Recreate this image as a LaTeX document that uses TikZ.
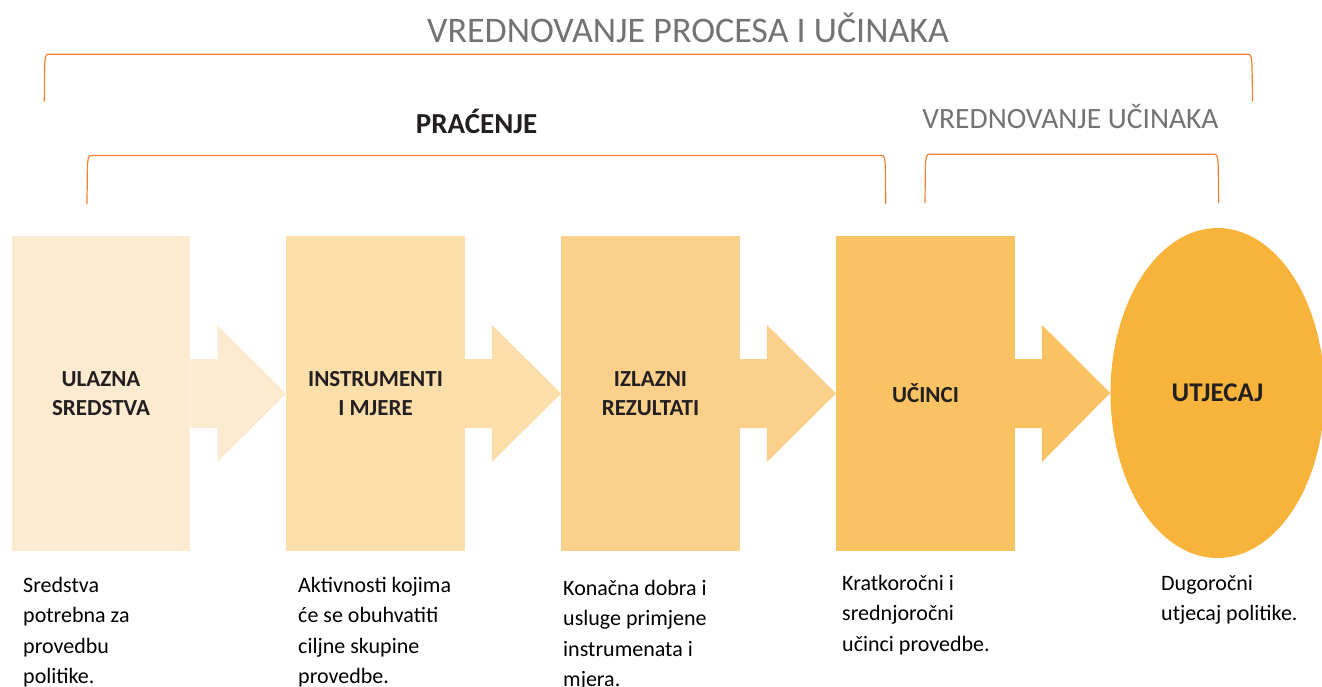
\documentclass[tikz,border=0pt]{standalone}
\usepackage{fontspec}
\setmainfont{Carlito}
\usetikzlibrary{shapes.geometric,calc}
\definecolor{cA}{HTML}{FDEBD1}
\definecolor{cB}{HTML}{FCDEAB}
\definecolor{cC}{HTML}{FBD08A}
\definecolor{cD}{HTML}{F9C262}
\definecolor{cE}{HTML}{F8B33A}
\definecolor{brkcol}{HTML}{F08232}
\definecolor{graytxt}{HTML}{737373}
\definecolor{darktxt}{HTML}{231F20}
\tikzset{
  stagebox/.style={rectangle, fill=#1, minimum width=178.5pt, minimum height=315pt, inner sep=0pt,
    align=center, text=darktxt, font=\fontsize{23}{29}\selectfont\bfseries},
  goalell/.style={ellipse, fill=cE, minimum width=214pt, minimum height=330pt, inner sep=0pt,
    align=center, text=darktxt, font=\fontsize{27}{32}\selectfont\bfseries},
  desc/.style={anchor=north west, inner sep=0pt, align=left, text=black,
    font=\fontsize{22}{30.5}\selectfont},
  brk/.style={draw=brkcol, line width=1.2pt},
  headtxt/.style={anchor=base, inner sep=0pt, text=graytxt},
}
\newcommand{\blockarrow}[3]{%
  \fill[#3] ($(#1.east)+(0,-34.5)$) -- ($(#1.east)+(27,-34.5)$) -- ($(#1.east)+(27,-68.5)$)
    -- (#2.west) -- ($(#1.east)+(27,68.5)$) -- ($(#1.east)+(27,34.5)$)
    -- ($(#1.east)+(0,34.5)$) -- cycle;}
\begin{document}
\begin{tikzpicture}[x=1pt,y=-1pt]
\useasboundingbox (0,0) rectangle (1322,686);
% stages
\node[stagebox=cA] (b1) at (101,393.5) {ULAZNA\\SREDSTVA};
\node[stagebox=cB] (b2) at (375.5,393.5) {INSTRUMENTI\\I MJERE};
\node[stagebox=cC] (b3) at (650.5,393.5) {IZLAZNI\\REZULTATI};
\node[stagebox=cD] (b4) at (925.5,393.5) {UČINCI};
\node[goalell] (b5) at (1217.5,393) {UTJECAJ};
% block arrows
\blockarrow{b1}{b2}{cA}
\blockarrow{b2}{b3}{cB}
\blockarrow{b3}{b4}{cC}
\blockarrow{b4}{b5}{cD}
% headings
\node[headtxt, font=\fontsize{36}{40}\selectfont] (t1) at (688,42) {VREDNOVANJE PROCESA I UČINAKA};
\node[headtxt, font=\fontsize{29}{34}\selectfont\bfseries, text=darktxt] (t2) at (476.5,133) {PRAĆENJE};
\node[headtxt, font=\fontsize{29.5}{34}\selectfont] (t3) at (1070.5,128) {VREDNOVANJE UČINAKA};
% brackets
\draw[brk] (44.3,101.5) -- (44.7,66) .. controls (45.1,57) and (45.8,54.3) .. (48,54.3)
  -- (1248.5,54.3) .. controls (1250.7,54.3) and (1251.6,57) .. (1252,66) -- (1252.6,101.5);
\draw[brk] (87,204) -- (87.4,167) .. controls (87.8,158) and (88.6,155.5) .. (90.8,155.5)
  -- (882,155.5) .. controls (884.2,155.5) and (885,158) .. (885.3,167) -- (885.8,204);
\draw[brk] (925,203) -- (925.4,166) .. controls (925.8,157) and (926.6,154.3) .. (928.8,154.3)
  -- (1214.8,154.3) .. controls (1217,154.3) and (1217.8,157) .. (1218.2,166) -- (1218.7,203);
% descriptions
\node[desc] (d1) at (23,572) {\rule{0pt}{20pt}Sredstva\\potrebna za\\provedbu\\politike.};
\node[desc] (d2) at (298,572) {\rule{0pt}{20pt}Aktivnosti kojima\\će se obuhvatiti\\ciljne skupine\\provedbe.};
\node[desc] (d3) at (563,575) {\rule{0pt}{20pt}Konačna dobra i\\usluge primjene\\instrumenata i\\mjera.};
\node[desc] (d4) at (842,570) {\rule{0pt}{20pt}Kratkoročni i\\srednjoročni\\učinci provedbe.};
\node[desc] (d5) at (1161,570) {\rule{0pt}{20pt}Dugoročni\\utjecaj politike.};
\end{tikzpicture}
\end{document}
